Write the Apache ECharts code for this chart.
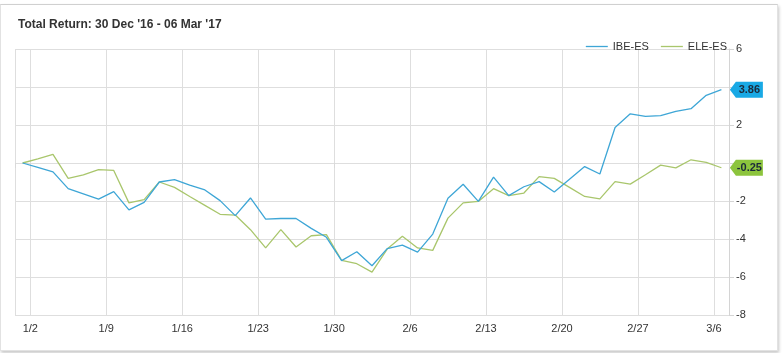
<!DOCTYPE html>
<html>
<head>
<meta charset="utf-8">
<script src="https://cdn.jsdelivr.net/npm/echarts@6/dist/echarts.min.js"></script>
<style>
  html, body { margin: 0; padding: 0; background: #fff; width: 783px; height: 353px; overflow: hidden; }
  #card { position: absolute; left: 0; top: 4px; width: 776px; height: 345px; border: 1px solid #e2e2e2; border-top-color: #d0d0d0; box-shadow: 1px 2px 3px rgba(0,0,0,0.22); background: #fff; }
  #chart { position: absolute; left: 0; top: 0; width: 783px; height: 353px; }
</style>
</head>
<body>
<div id="card"></div>
<div id="chart"></div>
<script>
const titleText = "Total Return: 30 Dec '16 - 06 Mar '17";
const seriesNames = ['IBE-ES', 'ELE-ES'];
const dates = ['12/30',
  '1/2','1/3','1/4','1/5','1/6',
  '1/9','1/10','1/11','1/12','1/13',
  '1/16','1/17','1/18','1/19','1/20',
  '1/23','1/24','1/25','1/26','1/27',
  '1/30','1/31','2/1','2/2','2/3',
  '2/6','2/7','2/8','2/9','2/10',
  '2/13','2/14','2/15','2/16','2/17',
  '2/20','2/21','2/22','2/23','2/24',
  '2/27','2/28','3/1','3/2','3/3',
  '3/6'];
const tickLabels = ['1/2','1/9','1/16','1/23','1/30','2/6','2/13','2/20','2/27','3/6'];
const ibe = [0, -0.23, -0.47, -1.35, -1.62, -1.9, -1.51, -2.47, -2.07, -1.0, -0.88, -1.16, -1.42, -1.98, -2.77, -1.84,
  -2.95, -2.92, -2.92, -3.44, -3.91, -5.14, -4.67, -5.41, -4.51, -4.32, -4.69, -3.74, -1.86, -1.12, -2.02,
  -0.74, -1.72, -1.25, -0.98, -1.53, -0.86, -0.19, -0.58, 1.87, 2.59, 2.45, 2.49, 2.72, 2.86, 3.56, 3.86];
const ele = [0, 0.22, 0.45, -0.81, -0.63, -0.35, -0.39, -2.1, -1.93, -1.0, -1.28, -1.76, -2.23, -2.7, -2.74, -3.51,
  -4.47, -3.51, -4.42, -3.83, -3.77, -5.12, -5.3, -5.74, -4.53, -3.86, -4.47, -4.6, -2.9, -2.1, -2.02,
  -1.35, -1.72, -1.58, -0.72, -0.81, -1.28, -1.76, -1.89, -0.98, -1.11, -0.62, -0.11, -0.26, 0.17, 0.03, -0.25];
const yMin = -8, yMax = 6, yStep = 2;
const yHiddenLabels = [4, 0];

const lineColors = ['#3ea6d6', '#a9c66c'];
const tagColors = ['#19a9e5', '#8cc43d'];
const FONT = '"Liberation Sans", Arial, sans-serif';

const isTick = (idx, val) => idx === 0 || tickLabels.indexOf(val) >= 0;
const isLabel = (idx, val) => tickLabels.indexOf(val) >= 0;

function makeSeries(name, data, i) {
  const last = data.length - 1;
  return {
    name: name,
    type: 'line',
    data: data,
    symbol: 'none',
    showSymbol: false,
    lineStyle: { width: 1.3, color: lineColors[i] },
    itemStyle: { color: lineColors[i] },
    emphasis: { disabled: true },
    animation: false,
    z: 3 - i,
    markPoint: {
      symbol: 'path://M0,8 L6,0 L33,0 L33,16 L6,16 Z',
      symbolSize: [33, 16],
      symbolOffset: [25, 0],
      silent: true,
      itemStyle: { color: tagColors[i] },
      label: {
        show: true,
        position: 'inside',
        offset: [3, 0],
        color: '#1c2a3a',
        fontFamily: FONT,
        fontSize: 11,
        fontWeight: 'bold',
        formatter: (p) => data[last].toFixed(2)
      },
      data: [{ coord: [last, data[last]], value: data[last] }],
      z: 10
    }
  };
}

const chart = echarts.init(document.getElementById('chart'), null, { renderer: 'canvas' });
chart.setOption({
  animation: false,
  backgroundColor: 'transparent',
  textStyle: { fontFamily: FONT },
  title: {
    text: titleText,
    left: 13,
    top: 14,
    textStyle: { fontFamily: FONT, fontSize: 12, fontWeight: 'bold', color: '#333' }
  },
  legend: {
    data: seriesNames,
    right: 51,
    top: 36,
    icon: 'rect',
    itemWidth: 22,
    itemHeight: 1.3,
    itemGap: 12,
    textStyle: { fontFamily: FONT, fontSize: 11, color: '#333' }
  },
  grid: { left: 15, right: 54, top: 49, height: 266, containLabel: false },
  xAxis: {
    type: 'category',
    data: dates,
    boundaryGap: true,
    axisLine: { show: false },
    axisTick: { show: true, interval: isTick, length: 5, lineStyle: { color: '#d9d9d9' } },
    axisLabel: {
      interval: isLabel,
      color: '#333',
      fontFamily: FONT,
      fontSize: 11,
      margin: 8,
      padding: [0, 15, 0, 0]
    },
    splitLine: { show: true, interval: isTick, lineStyle: { color: '#dedede', width: 1 } }
  },
  yAxis: {
    type: 'value',
    position: 'right',
    min: yMin,
    max: yMax,
    interval: yStep,
    axisLine: { show: true, lineStyle: { color: '#d4d4d4' } },
    axisTick: { show: true, length: 5, lineStyle: { color: '#d4d4d4' } },
    axisLabel: {
      color: '#333',
      fontFamily: FONT,
      fontSize: 11,
      margin: 7,
      formatter: (v) => yHiddenLabels.indexOf(v) >= 0 ? '' : String(v)
    },
    splitLine: { show: true, lineStyle: { color: '#dedede', width: 1 } }
  },
  series: [makeSeries(seriesNames[0], ibe, 0), makeSeries(seriesNames[1], ele, 1)]
});
</script>
</body>
</html>
